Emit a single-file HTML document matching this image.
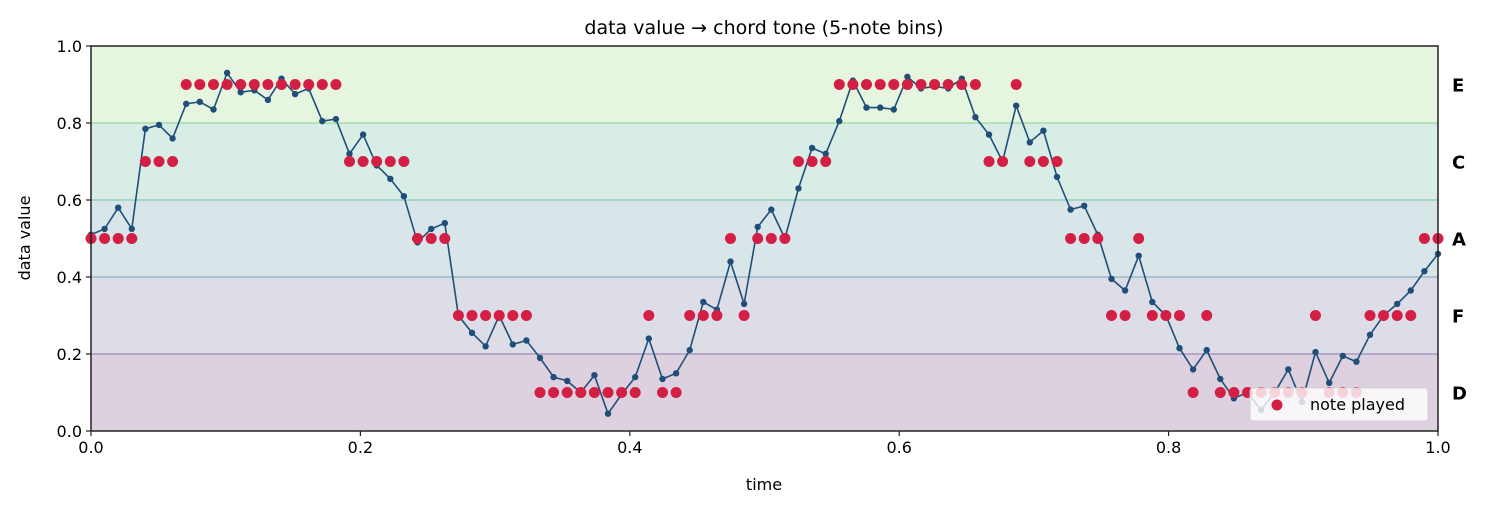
<!DOCTYPE html>
<html><head><meta charset="utf-8"><style>
html,body{margin:0;padding:0;background:#fff;}
svg{display:block;font-family:"DejaVu Sans","Liberation Sans",sans-serif;}
</style></head><body>
<svg id="s" width="1485" height="509" xmlns="http://www.w3.org/2000/svg"></svg>
<script>
const vals=[0.51,0.525,0.58,0.525,0.785,0.795,0.76,0.85,0.855,0.835,0.93,0.88,0.885,0.86,0.915,0.875,0.89,0.805,0.81,0.72,0.77,0.69,0.655,0.61,0.49,0.525,0.54,0.30,0.255,0.22,0.30,0.225,0.235,0.19,0.14,0.13,0.10,0.145,0.045,0.095,0.14,0.24,0.135,0.15,0.21,0.335,0.315,0.44,0.33,0.53,0.575,0.50,0.63,0.735,0.72,0.805,0.91,0.84,0.84,0.835,0.92,0.89,0.895,0.89,0.915,0.815,0.77,0.70,0.845,0.75,0.78,0.66,0.575,0.585,0.51,0.395,0.365,0.455,0.335,0.30,0.215,0.16,0.21,0.135,0.085,0.10,0.055,0.10,0.16,0.075,0.205,0.125,0.195,0.18,0.25,0.30,0.33,0.365,0.415,0.46];
const X0=91,X1=1438,Y0=431,Y1=46;
const px=t=>X0+t*(X1-X0), py=v=>Y0-v*(Y0-Y1);
let h='';
const bands=['#ddd0df','#dddde8','#d8e5e9','#d7ede6','#e6f5df'];
const lines=['#a898c0','#9ab8c8','#99cfc2','#a9dca9'];
for(let i=0;i<5;i++){h+=`<rect x="${X0}" y="${py((i+1)*0.2)}" width="${X1-X0}" height="${385*0.2}" fill="${bands[i]}"/>`;}
for(let i=0;i<4;i++){const y=py((i+1)*0.2);h+=`<line x1="${X0}" x2="${X1}" y1="${y}" y2="${y}" stroke="${lines[i]}" stroke-width="1.5"/>`;}
const n=vals.length;let pts=vals.map((v,i)=>[px(i/(n-1)),py(v)]);
h+=`<polyline fill="none" stroke="#1f4e79" stroke-width="1.6" points="${pts.map(p=>p[0].toFixed(1)+','+p[1].toFixed(1)).join(' ')}"/>`;
pts.forEach(p=>h+=`<circle cx="${p[0].toFixed(1)}" cy="${p[1].toFixed(1)}" r="3.2" fill="#1f4e79"/>`);
vals.forEach((v,i)=>{let b=Math.min(4,Math.floor(v/0.2));if(i==24)b=2;const nv=b*0.2+0.1;h+=`<circle cx="${px(i/(n-1)).toFixed(1)}" cy="${py(nv).toFixed(1)}" r="5.5" fill="#d21f43"/>`;});
// legend
h+=`<rect x="1250" y="388" width="178" height="33" rx="3" fill="#fff" fill-opacity="0.8" stroke="#ccc" stroke-opacity="0.8"/>`;
h+=`<circle cx="1277" cy="405" r="5.5" fill="#d21f43"/><text x="1310" y="410" font-size="16" fill="#000">note played</text>`;
// axes
h+=`<rect x="${X0}" y="${Y1}" width="${X1-X0}" height="${Y0-Y1}" fill="none" stroke="#222" stroke-width="1.5"/>`;
for(let i=0;i<=5;i++){const v=i*0.2,y=py(v);h+=`<line x1="${X0-5}" x2="${X0}" y1="${y}" y2="${y}" stroke="#222" stroke-width="1.2"/><text x="${X0-9}" y="${y+6}" font-size="16" text-anchor="end">${v.toFixed(1)}</text>`;
const x=px(v);h+=`<line x1="${x}" x2="${x}" y1="${Y0}" y2="${Y0+5}" stroke="#222" stroke-width="1.2"/><text x="${x}" y="${Y0+22}" font-size="16" text-anchor="middle">${v.toFixed(1)}</text>`;}
h+=`<text x="764" y="490" font-size="16" text-anchor="middle">time</text>`;
h+=`<text transform="translate(30,238) rotate(-90)" font-size="16" text-anchor="middle">data value</text>`;
h+=`<text x="764" y="34" font-size="19" text-anchor="middle">data value → chord tone (5-note bins)</text>`;
['D','F','A','C','E'].forEach((l,i)=>h+=`<text x="1452" y="${py(i*0.2+0.1)+7}" font-size="18" font-weight="bold">${l}</text>`);
document.getElementById('s').innerHTML=h;
</script>
</body></html>
